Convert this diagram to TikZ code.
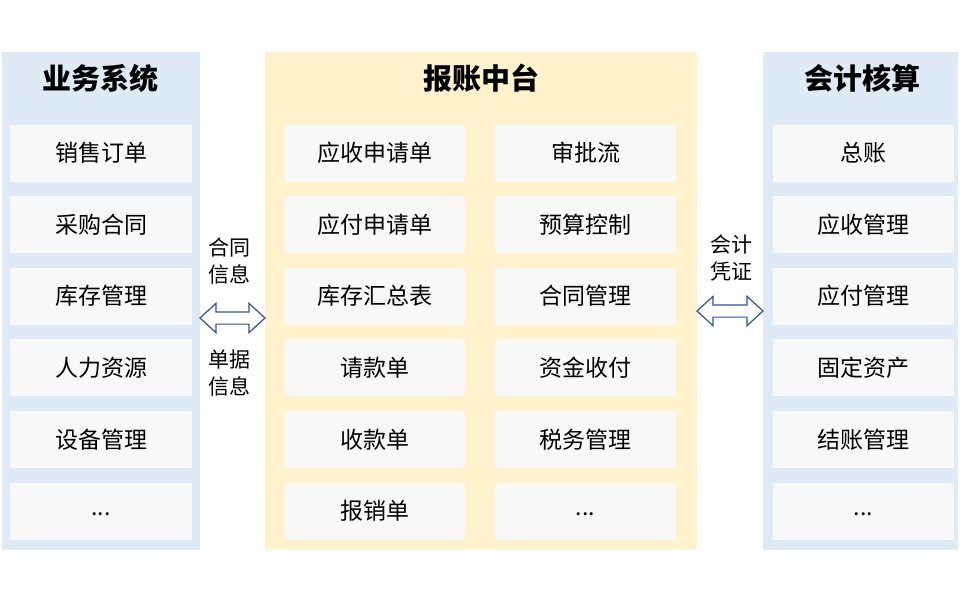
\documentclass[tikz,border=0pt]{standalone}
\usepackage{fontspec}
\setmainfont{Noto Sans CJK SC}
\usetikzlibrary{shapes.arrows,calc}
\definecolor{panelblue}{HTML}{DEEBF7}
\definecolor{panelyellow}{HTML}{FFF2CC}
\definecolor{itemgray}{HTML}{F8F8F8}
\definecolor{arrowblue}{HTML}{2F5597}
\tikzset{
	panel/.style={inner sep=0, minimum height=498, minimum width=#1},
	item/.style={fill=itemgray, inner sep=0, minimum height=57, minimum width=#1,
		font=\fontsize{23}{27}\selectfont},
	title/.style={font=\fontsize{29}{33}\selectfont\bfseries},
	flowlabel/.style={align=center, font=\fontsize{21}{27}\selectfont},
	flow/.style={double arrow, draw=arrowblue, fill=white, line width=1.2pt, inner sep=0,
		text height=11, text depth=0, minimum height=#1, minimum width=28,
		double arrow head extend=8.5, double arrow tip angle=85}
}

\begin{document}
\begin{tikzpicture}[x=1pt,y=-1pt]
	\useasboundingbox (0,0) rectangle (960,600);
	% panels
	\node[panel=198, fill=panelblue] (biz) at (101,301) {};
	\node[panel=432, fill=panelyellow] (mid) at (481,301) {};
	\node[panel=195, fill=panelblue] (acc) at (860.5,301) {};
	\node[title] (biztitle) at (100,78) {业务系统};
	\node[title] (midtitle) at (481,78) {报账中台};
	\node[title] (acctitle) at (862,78) {会计核算};
	% items
	\foreach \txt [count=\i] in {销售订单,采购合同,库存管理,人力资源,设备管理}
		\node[item=182] (biz\i) at (101,{153+71.6*(\i-1)}) {\txt};
	\node[item=182, text height=10] (biz6) at (101,511) {...};
	\foreach \txt [count=\i] in {应收申请单,应付申请单,库存汇总表,请款单,收款单,报销单}
		\node[item=180] (mida\i) at (375,{153+71.6*(\i-1)}) {\txt};
	\foreach \txt [count=\i] in {审批流,预算控制,合同管理,资金收付,税务管理}
		\node[item=181] (midb\i) at (585.5,{153+71.6*(\i-1)}) {\txt};
	\node[item=181, text height=10] (midb6) at (585.5,511) {...};
	\foreach \txt [count=\i] in {总账,应收管理,应付管理,固定资产,结账管理}
		\node[item=181] (acc\i) at (863.5,{153+71.6*(\i-1)}) {\txt};
	\node[item=181, text height=10] (acc6) at (863.5,511) {...};
	% flows between panels
	\node[flow=65] (bizflow) at ($(biz.east)!0.5!(mid.west)+(0,17)$) {};
	\node[flow=66] (accflow) at ($(mid.east)!0.5!(acc.west)+(0,10)$) {};
	\node[flowlabel] (contract) at (229,261.5) {合同\\信息};
	\node[flowlabel] (bill) at (229,373.5) {单据\\信息};
	\node[flowlabel] (voucher) at (731,258.5) {会计\\凭证};
\end{tikzpicture}
\end{document}
